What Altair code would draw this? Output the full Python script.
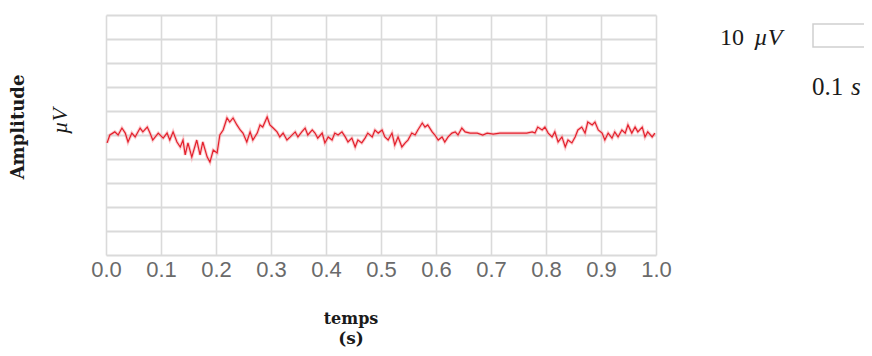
import altair as alt
import pandas as pd

# time (s) and amplitude (µV)
times = [0.002, 0.007, 0.016, 0.022, 0.029, 0.035, 0.040, 0.047, 0.053, 0.062,
         0.067, 0.075, 0.080, 0.085, 0.095, 0.104, 0.111, 0.116, 0.122, 0.129,
         0.135, 0.140, 0.144, 0.149, 0.156, 0.165, 0.171, 0.176, 0.184, 0.189,
         0.195, 0.202, 0.207, 0.213, 0.220, 0.225, 0.231, 0.238, 0.244, 0.249,
         0.256, 0.262, 0.267, 0.275, 0.280, 0.285, 0.293, 0.298, 0.304, 0.311,
         0.316, 0.322, 0.329, 0.335, 0.344, 0.349, 0.356, 0.362, 0.367, 0.375,
         0.380, 0.385, 0.393, 0.398, 0.404, 0.411, 0.416, 0.422, 0.429, 0.435,
         0.440, 0.447, 0.453, 0.458, 0.465, 0.471, 0.476, 0.484, 0.489, 0.495,
         0.502, 0.507, 0.513, 0.520, 0.525, 0.531, 0.538, 0.544, 0.549, 0.556,
         0.562, 0.567, 0.575, 0.580, 0.585, 0.593, 0.598, 0.604, 0.611, 0.616,
         0.622, 0.629, 0.635, 0.640, 0.647, 0.653, 0.662, 0.675, 0.685, 0.693,
         0.704, 0.716, 0.729, 0.740, 0.753, 0.765, 0.775, 0.780, 0.785, 0.793,
         0.798, 0.804, 0.811, 0.816, 0.822, 0.829, 0.835, 0.840, 0.847, 0.853,
         0.858, 0.865, 0.871, 0.876, 0.884, 0.889, 0.895, 0.902, 0.907, 0.913,
         0.920, 0.925, 0.931, 0.938, 0.944, 0.949, 0.956, 0.962, 0.967, 0.975,
         0.980, 0.985, 0.993, 0.998]
amps = [-3.3, 0.0, 1.3, 0.0, 2.9, 0.8, -2.9, 0.8, -0.8, 2.9,
        1.3, 3.3, 0.8, -2.1, 0.8, -1.3, 0.8, -2.1, 1.3, -2.9,
        -5.0, -2.1, -8.3, -3.3, -9.2, -2.1, -8.3, -2.9, -9.2, -11.3,
        -6.3, -7.5, 0.0, 2.1, 7.1, 5.4, 7.1, 4.2, 2.1, 0.8,
        -2.9, 1.3, -2.1, 0.8, 4.2, 3.3, 7.5, 4.2, 2.9, 1.3,
        -0.8, 0.8, -2.1, -0.8, 1.3, -0.8, 1.3, 2.9, 0.0, 2.1,
        0.8, -1.3, 0.8, -3.3, -0.8, -2.1, 0.8, 0.0, 1.3, -0.8,
        -2.9, -1.3, -5.0, -2.1, -3.3, -1.3, 0.8, -0.8, 2.1, 0.8,
        2.1, -0.8, -2.1, 0.8, -4.2, -0.8, -5.0, -3.3, -2.1, 0.8,
        0.0, 2.1, 5.0, 3.3, 4.2, 1.3, 0.0, -2.1, -0.8, -2.9,
        -0.8, 0.8, 1.3, 0.0, 2.9, 1.3, 0.8, 0.8, 0.0, 0.8,
        0.4, 0.8, 0.8, 0.8, 0.8, 0.8, 1.3, 0.8, 3.3, 2.1,
        3.3, 0.8, -0.8, 1.3, -2.9, -0.8, -5.0, -2.1, -3.3, -0.8,
        2.1, 3.3, 0.8, 5.4, 4.2, 5.4, 2.1, 0.8, -2.1, 0.8,
        -1.3, 1.3, -0.8, 2.1, 0.8, 4.2, 0.8, 3.3, 1.3, 3.3,
        -0.8, 1.3, -0.8, 0.8]

x_ticks = [0.0, 0.1, 0.2, 0.3, 0.4, 0.5, 0.6, 0.7, 0.8, 0.9, 1.0]
y_grid = [-50, -40, -30, -20, -10, 0, 10, 20, 30, 40, 50]

df = pd.DataFrame({"t": times, "a": amps})

base = alt.Chart(df).encode(
    x=alt.X("t:Q", scale=alt.Scale(domain=[0, 1], nice=False),
            axis=alt.Axis(values=x_ticks, format=".1f", title=None, grid=True,
                          domain=False, ticks=False, labelFlush=False,
                          labelFont="Liberation Sans", labelFontSize=22,
                          labelColor="#6a6a6a", labelPadding=4,
                          gridColor="#dadada", gridWidth=1.6)),
    y=alt.Y("a:Q", scale=alt.Scale(domain=[-50, 50], nice=False),
            axis=alt.Axis(values=y_grid, labels=False, ticks=False, domain=False,
                          title=None, grid=True, gridColor="#dadada", gridWidth=1.8)),
)

halo = base.mark_line(color="#f7a0a6", strokeWidth=3.2, opacity=0.55)
line = base.mark_line(color="#e3202c", strokeWidth=1.2)

one = alt.Data(values=[{}])

def txt(text, x, y, size, weight="normal", style="normal", angle=0,
        font="DejaVu Serif", color="#1a1a1a", align="center", baseline="middle"):
    return alt.Chart(one).mark_text(
        text=text, fontSize=size, fontWeight=weight, fontStyle=style,
        angle=angle, font=font, color=color, align=align, baseline=baseline
    ).encode(x=alt.value(x), y=alt.value(y))

amp_t = txt("Amplitude", -87, 112, 18, weight="bold", angle=270)
uv_t = txt("µV", -46, 106, 22, style="italic", angle=270, font="Liberation Serif")
temps_t = txt("temps", 245, 304, 16, weight="bold")
s_t = txt("(s)", 245, 329, 17, weight="bold", baseline="alphabetic")
ten_t = txt("10", 614, 23, 24, font="Liberation Serif", align="left")
uv2_t = txt("µV", 648, 23, 24, style="italic", font="Liberation Serif", align="left")
box = alt.Chart(one).mark_rect(fill="white", stroke="#cfcfcf", strokeWidth=1.5).encode(
    x=alt.value(707), x2=alt.value(760), y=alt.value(9), y2=alt.value(32))
p1_t = txt("0.1", 706, 72, 25, font="Liberation Serif", align="left")
s2_t = txt("s", 745, 72, 25, style="italic", font="Liberation Serif", align="left")

chart = alt.layer(halo, line, amp_t, uv_t, temps_t, s_t, ten_t, uv2_t, box, p1_t, s2_t).properties(
    width=550, height=240,
    autosize=alt.AutoSizeParams(type="none"),
    padding={"left": 98, "top": 7, "right": 208, "bottom": 93},
).configure_view(stroke=None)

chart.save("out.html", embed_options={"renderer": "svg", "actions": False})
